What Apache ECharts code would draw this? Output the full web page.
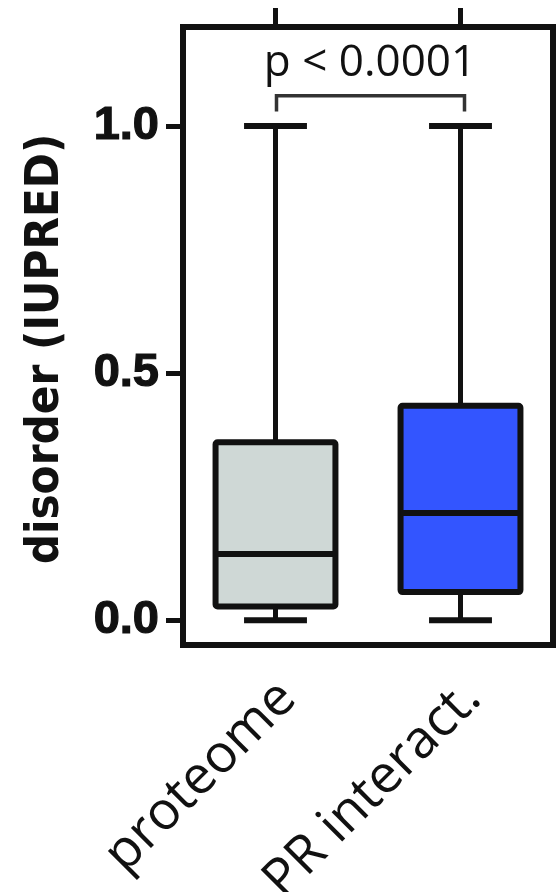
<!DOCTYPE html>
<html>
<head>
<meta charset="utf-8">
<script src="https://cdn.jsdelivr.net/npm/echarts@6/dist/echarts.min.js"></script>
<style>
  html, body { margin: 0; padding: 0; background: #fff; }
  #main { width: 557px; height: 892px; }
</style>
</head>
<body>
<div id="main"></div>
<script>
// box plot values
var categories = ['proteome', 'PR interact.'];
var whiskerLow = [0, 0];
var q1 = [0.028, 0.057];
var median = [0.134, 0.217];
var q3 = [0.360, 0.434];
var whiskerHigh = [1.0, 1.0];
var boxColors = ['#cfd8d6', '#3355ff'];
var yTicks = [0, 0.5, 1.0];

// significance bracket: from cat, to cat, bar value, leg end value
var bracket = [0, 1, 1.061, 1.029];
var pLabel = 'p < 0.0001';
var pLabelY = 1.127;

var ink = '#111';

var boxData = categories.map(function (c, i) {
  return [i, whiskerLow[i], q1[i], median[i], q3[i], whiskerHigh[i]];
});

function renderBox(params, api) {
  var i = api.value(0);
  var band = api.size([1, 0])[0];
  var half = band * 0.324;
  var cap = band * 0.17;
  var lo = api.coord([i, api.value(1)]);
  var b1 = api.coord([i, api.value(2)]);
  var md = api.coord([i, api.value(3)]);
  var b3 = api.coord([i, api.value(4)]);
  var hi = api.coord([i, api.value(5)]);
  var x = lo[0];
  return {
    type: 'group',
    children: [
      { type: 'line', shape: { x1: x, y1: hi[1], x2: x, y2: b3[1] }, style: { stroke: ink, lineWidth: 5 } },
      { type: 'line', shape: { x1: x, y1: b1[1], x2: x, y2: lo[1] }, style: { stroke: ink, lineWidth: 5 } },
      { type: 'line', shape: { x1: x - cap, y1: hi[1], x2: x + cap, y2: hi[1] }, style: { stroke: ink, lineWidth: 6 } },
      { type: 'line', shape: { x1: x - cap, y1: lo[1], x2: x + cap, y2: lo[1] }, style: { stroke: ink, lineWidth: 6 } },
      { type: 'rect', shape: { x: x - half, y: b3[1], width: 2 * half, height: b1[1] - b3[1], r: 2 },
        style: { fill: boxColors[i], stroke: ink, lineWidth: 6, lineJoin: 'round' } },
      { type: 'line', shape: { x1: x - half, y1: md[1], x2: x + half, y2: md[1] }, style: { stroke: ink, lineWidth: 6 } }
    ]
  };
}

function renderBracket(params, api) {
  var p0 = api.coord([api.value(0), api.value(2)]);
  var p1 = api.coord([api.value(1), api.value(2)]);
  var legY = api.coord([api.value(0), api.value(3)])[1];
  var ty = api.coord([api.value(0), pLabelY])[1];
  return {
    type: 'group',
    children: [
      { type: 'polyline', shape: { points: [[p0[0] + 1, legY], [p0[0] + 1, p0[1]], [p1[0] + 4, p1[1]], [p1[0] + 4, legY]] },
        style: { stroke: '#333', lineWidth: 3.5, fill: null } },
      { type: 'text', style: { text: pLabel, x: (p0[0] + p1[0]) / 2 + 2, y: ty, align: 'center', verticalAlign: 'middle',
        fontFamily: 'Open Sans', fontSize: 44, fill: ink } }
    ]
  };
}

var tickStyle = { color: ink, width: 5 };

var chart = echarts.init(document.getElementById('main'));
chart.setOption({
  animation: false,
  grid: {
    show: true, left: 183, right: 4, top: 27, bottom: 247,
    borderWidth: 6, borderColor: ink, backgroundColor: 'transparent',
    outerBoundsMode: 'none'
  },
  xAxis: [{
    type: 'category', data: categories, position: 'bottom',
    axisLine: { show: true, onZero: false, lineStyle: { color: ink, width: 6 } },
    axisTick: { alignWithLabel: true, length: 18, lineStyle: tickStyle },
    axisLabel: {
      interval: 0, rotate: 45, margin: 33,
      formatter: function (v) { return '{c|' + v + '}'; },
      rich: { c: { fontSize: 53, fontFamily: 'Open Sans', color: ink, padding: [34, 0, 0, 0] } }
    }
  }, {
    type: 'category', data: categories, position: 'top',
    axisLine: { show: true, onZero: false, lineStyle: { color: ink, width: 6 } },
    axisTick: { show: true, alignWithLabel: true, length: 19, lineStyle: tickStyle },
    axisLabel: { show: false }
  }],
  yAxis: {
    type: 'value', min: -0.05, max: 1.2,
    splitLine: { show: false },
    axisLine: { show: true, onZero: false, lineStyle: { color: ink, width: 6 } },
    axisTick: { show: true, length: 17, customValues: yTicks, lineStyle: tickStyle },
    axisLabel: {
      customValues: yTicks, margin: 24, color: ink,
      fontFamily: 'Liberation Sans', fontWeight: 'bold', fontSize: 47,
      textBorderColor: ink, textBorderWidth: 1.2,
      formatter: function (v) { return v.toFixed(1); }
    },
    name: 'disorder (IUPRED)', nameLocation: 'middle', nameGap: 114, nameRotate: 90,
    nameTextStyle: { fontFamily: 'DejaVu Sans Condensed', fontWeight: 'bold', fontSize: 47, color: ink, padding: [0, 26, 0, 0] }
  },
  series: [{
    type: 'custom', renderItem: renderBox, data: boxData,
    encode: { x: 0, y: [1, 2, 3, 4, 5] }
  }, {
    type: 'custom', renderItem: renderBracket, data: [bracket],
    encode: { x: [0, 1], y: [2, 3] }
  }]
});
</script>
</body>
</html>
